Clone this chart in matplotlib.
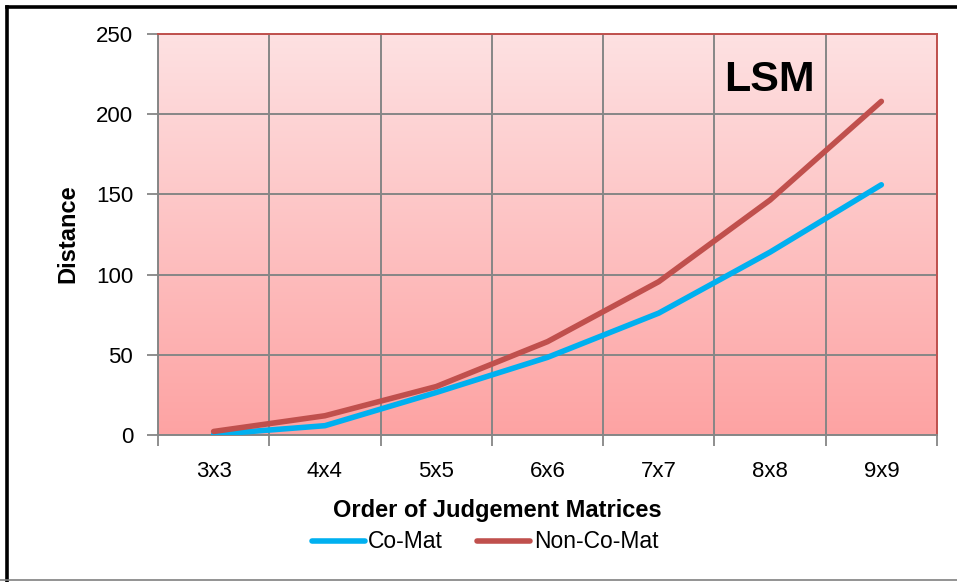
import numpy as np
import matplotlib.pyplot as plt
from matplotlib.lines import Line2D

# data
orders = ["3x3", "4x4", "5x5", "6x6", "7x7", "8x8", "9x9"]
co_mat = [0.4, 5.8, 26.5, 48.4, 76.0, 114.0, 156.0]
non_co_mat = [2.2, 12.0, 30.2, 58.2, 95.6, 146.5, 208.0]
y_ticks = [0, 50, 100, 150, 200, 250]

COLOR_CO = "#00B0F0"
COLOR_NON = "#C0504D"
GRID = "#868686"

plt.rcParams["font.family"] = ["Liberation Sans", "DejaVu Sans"]

fig = plt.figure(figsize=(9.57, 5.82), dpi=100)
ax = fig.add_axes([158 / 957, 1 - 435 / 582, (937 - 158) / 957, (435 - 34) / 582])
ax.set_axisbelow("line")

x = np.arange(len(orders))

# pink vertical gradient background (light at top, darker at bottom)
grad = np.linspace(0, 1, 256).reshape(-1, 1)
top = np.array([0xFD, 0xE1, 0xE2]) / 255
bot = np.array([0xFE, 0xA3, 0xA3]) / 255
img = top + (bot - top) * grad[..., None]
ax.imshow(img, extent=[-0.5, len(orders) - 0.5, 0, 250], origin="upper",
          aspect="auto", zorder=0)
ax.set_xlim(-0.5, len(orders) - 0.5)
ax.set_ylim(0, 250)

ax.plot(x, co_mat, color=COLOR_CO, linewidth=4, solid_capstyle="round", zorder=3)
ax.plot(x, non_co_mat, color=COLOR_NON, linewidth=4, solid_capstyle="round", zorder=3)

ax.set_xticks(x)
ax.set_xticklabels(orders, fontsize=16)
ax.set_xticks(np.arange(-0.5, len(orders)), minor=True)
ax.tick_params(axis="x", which="major", length=0, pad=19)
ax.tick_params(axis="x", which="minor", length=8, width=1.3, color=GRID, direction="out")
ax.set_yticks(y_ticks)
ax.set_yticklabels([str(v) for v in y_ticks], fontsize=16)
ax.tick_params(axis="y", length=8, width=1.3, color=GRID, pad=10)

ax.grid(True, axis="y", color=GRID, linewidth=1.4)
ax.grid(True, axis="x", which="minor", color=GRID, linewidth=1.4)

for side in ["left", "bottom"]:
    ax.spines[side].set_color(GRID)
    ax.spines[side].set_linewidth(1.4)
for side in ["top", "right"]:
    ax.spines[side].set_color(COLOR_NON)
    ax.spines[side].set_linewidth(1.4)

fig.text(769 / 957, 1 - 80 / 582, "LSM", fontsize=31, fontweight="bold",
         ha="center", va="center")

fig.text(497 / 957, 1 - 510 / 582, "Order of Judgement Matrices", fontsize=17,
         fontweight="bold", ha="center", va="center")
fig.text(68 / 957, 1 - 234 / 582, "Distance", fontsize=17, fontweight="bold",
         ha="center", va="center", rotation=90)

# legend drawn below the x label
fig.add_artist(Line2D([312 / 957, 365 / 957], [1 - 541 / 582] * 2, color=COLOR_CO,
                      linewidth=4, solid_capstyle="round"))
fig.text(368 / 957, 1 - 541 / 582, "Co-Mat", fontsize=16.5, ha="left", va="center")
fig.add_artist(Line2D([477 / 957, 530 / 957], [1 - 541 / 582] * 2, color=COLOR_NON,
                      linewidth=4, solid_capstyle="round"))
fig.text(534 / 957, 1 - 541 / 582, "Non-Co-Mat", fontsize=16.5, ha="left", va="center")

# outer frame
fig.add_artist(Line2D([6.5 / 957, 6.5 / 957], [1 - 6.5 / 582, 0], color="black", linewidth=2.6))
fig.add_artist(Line2D([6.5 / 957, 1], [1 - 6.5 / 582, 1 - 6.5 / 582], color="black", linewidth=2.6))
fig.add_artist(Line2D([0, 1], [1 - 579.5 / 582] * 2, color="#808080", linewidth=1.2))

fig.savefig("out.png", dpi=100)
